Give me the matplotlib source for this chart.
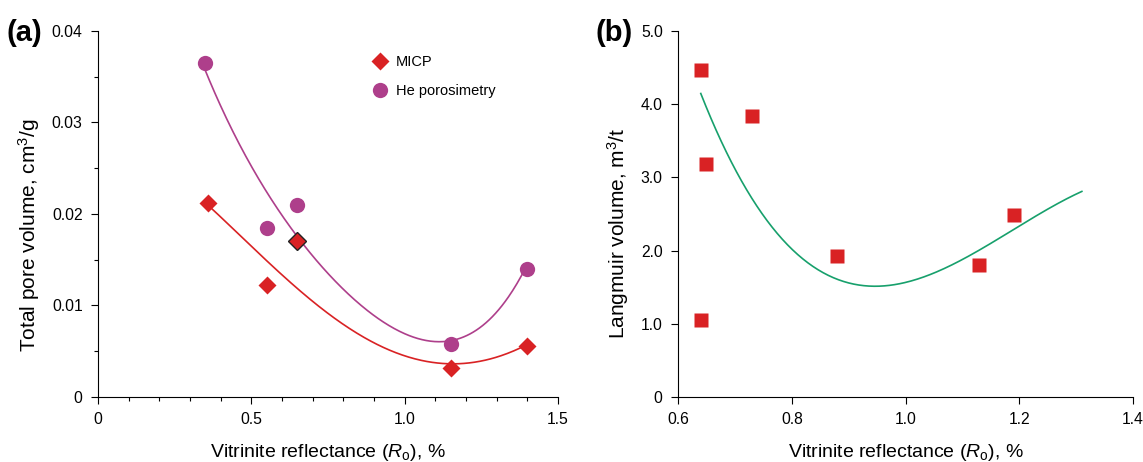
import matplotlib.pyplot as plt
import numpy as np
from matplotlib.ticker import MultipleLocator, FixedLocator

plt.rcParams['font.family'] = ['Liberation Sans', 'DejaVu Sans']
plt.rcParams['mathtext.fontset'] = 'custom'
plt.rcParams['mathtext.it'] = 'Liberation Sans:italic'
plt.rcParams['mathtext.rm'] = 'Liberation Sans'

### Data, panel (a) ###
micp_ro = [0.36, 0.55, 0.65, 1.15, 1.40]
micp_vol = [0.0212, 0.0122, 0.0170, 0.0032, 0.0056]
he_ro = [0.35, 0.55, 0.65, 1.15, 1.40]
he_vol = [0.0365, 0.0185, 0.0210, 0.0058, 0.0140]
# trend curves
micp_trend_ro = [0.352, 0.441, 0.561, 0.670, 0.778, 0.887, 1.028, 1.137, 1.278, 1.387]
micp_trend_vol = [0.0212, 0.0183, 0.0146, 0.0113, 0.0084, 0.0062, 0.0042, 0.0036, 0.0042, 0.0055]
he_trend_ro = [0.346, 0.409, 0.517, 0.626, 0.680, 0.778, 0.887, 0.996, 1.083, 1.137, 1.213, 1.387]
he_trend_vol = [0.0363, 0.0306, 0.0245, 0.0186, 0.0164, 0.0124, 0.0092, 0.0070, 0.0060, 0.0060, 0.0071, 0.0136]

### Data, panel (b) ###
lang_ro = [0.64, 0.65, 0.73, 0.88, 1.13, 1.19, 0.64]
lang_vol = [4.47, 3.18, 3.84, 1.92, 1.80, 2.48, 1.05]
trend_ro = [0.640, 0.718, 0.800, 0.856, 0.942, 1.000, 1.122, 1.200, 1.310]
trend_vol = [4.10, 2.95, 2.02, 1.68, 1.47, 1.55, 2.00, 2.36, 2.79]

red = '#d92224'
purple = '#ae3f8b'
green = '#17a06c'

fig = plt.figure(figsize=(11.43, 4.62), dpi=100)
axA = fig.add_axes([0.0857, 0.1407, 0.4025, 0.7923])
axB = fig.add_axes([0.5932, 0.1407, 0.3981, 0.7923])

def style(ax):
    for s in ['top', 'right']:
        ax.spines[s].set_visible(False)
    ax.tick_params(direction='out', length=5, width=0.8, labelsize=11.3, pad=6)
    ax.tick_params(which='minor', direction='out', length=3, width=0.8)

def smooth(ax, xs, ys, deg, color):
    c = np.polyfit(xs, ys, deg)
    xx = np.linspace(min(xs), max(xs), 300)
    ax.plot(xx, np.polyval(c, xx), color=color, lw=1.2, zorder=2)

### Panel (a) ###
smooth(axA, micp_trend_ro, micp_trend_vol, 4, red)
smooth(axA, he_trend_ro, he_trend_vol, 4, purple)

edges = ['none', 'none', '#222222', 'none', 'none']
for x, y, e in zip(micp_ro, micp_vol, edges):
    axA.plot(x, y, 'D', color=red, ms=9, mec=e, mew=1.0, zorder=3)
axA.plot(he_ro, he_vol, 'o', color=purple, ms=11, mec='none', ls='none', zorder=3)

axA.plot([], [], 'D', color=red, ms=9, mec='none', ls='none', label='MICP')
axA.plot([], [], 'o', color=purple, ms=11, mec='none', ls='none', label='He porosimetry')
axA.legend(loc='upper left', bbox_to_anchor=(0.569, 0.97), frameon=False,
           fontsize=10.5, handletextpad=0.6, labelspacing=1.0, handlelength=1.0)

axA.set_xlim(0, 1.5)
axA.set_ylim(0, 0.04)
axA.xaxis.set_major_locator(FixedLocator([0, 0.5, 1.0, 1.5]))
axA.set_xticklabels(['0', '0.5', '1.0', '1.5'])
axA.xaxis.set_minor_locator(MultipleLocator(0.1))
axA.yaxis.set_major_locator(FixedLocator([0, 0.01, 0.02, 0.03, 0.04]))
axA.set_yticklabels(['0', '0.01', '0.02', '0.03', '0.04'])
axA.yaxis.set_minor_locator(MultipleLocator(0.005))
style(axA)
axA.set_xlabel(r'Vitrinite reflectance ($R_\mathrm{o}$), %', fontsize=14, labelpad=10.5)
axA.set_ylabel(r'Total pore volume, cm$^3$/g', fontsize=15)
axA.yaxis.set_label_coords(-0.122, 0.443)
fig.text(0.006, 0.929, '(a)', fontsize=21, fontweight='bold', va='center')

### Panel (b) ###
smooth(axB, trend_ro, trend_vol, 3, green)
axB.plot(lang_ro, lang_vol, 's', color=red, ms=10, mec='none', ls='none', zorder=3)

axB.set_xlim(0.6, 1.4)
axB.set_ylim(0, 5.0)
axB.xaxis.set_major_locator(FixedLocator([0.6, 0.8, 1.0, 1.2, 1.4]))
axB.set_xticklabels(['0.6', '0.8', '1.0', '1.2', '1.4'])
axB.yaxis.set_major_locator(FixedLocator([0, 1, 2, 3, 4, 5]))
axB.set_yticklabels(['0', '1.0', '2.0', '3.0', '4.0', '5.0'])
style(axB)
axB.set_xlabel(r'Vitrinite reflectance ($R_\mathrm{o}$), %', fontsize=14, labelpad=10.5)
axB.set_ylabel(r'Langmuir volume, m$^3$/t', fontsize=15)
axB.yaxis.set_label_coords(-0.104, 0.448)
fig.text(0.521, 0.929, '(b)', fontsize=21, fontweight='bold', va='center')

fig.savefig('out.png', dpi=100)
